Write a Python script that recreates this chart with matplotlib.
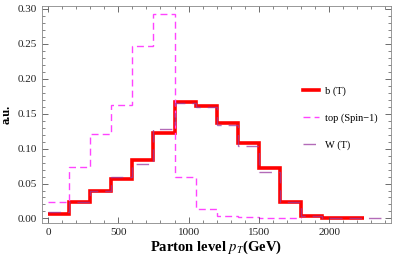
import matplotlib
matplotlib.use("Agg")
import matplotlib.pyplot as plt
import numpy as np
from matplotlib.ticker import MultipleLocator

plt.rcParams['font.family'] = ['Liberation Serif', 'DejaVu Serif']
plt.rcParams['mathtext.fontset'] = 'stix'

edges_b = [0, 150, 300, 450, 600, 750, 900, 1050, 1200, 1350, 1500, 1650, 1800, 1950, 2100, 2250]
b_T = [0.007, 0.024, 0.039, 0.056, 0.083, 0.122, 0.166, 0.161, 0.137, 0.108, 0.072, 0.024, 0.003, 0.001, 0.001]

edges_top = [0, 150, 300, 450, 600, 750, 900, 1050, 1200, 1350, 1500, 1650, 1800]
top_spin1 = [0.024, 0.074, 0.121, 0.162, 0.247, 0.293, 0.059, 0.013, 0.004, 0.002, 0.001, 0.001]

edges_w = [0, 150, 300, 450, 600, 750, 900, 1050, 1200, 1350, 1500, 1650, 1800, 1950, 2100, 2250, 2400]
W_T = [0.009, 0.024, 0.040, 0.060, 0.078, 0.128, 0.165, 0.160, 0.134, 0.104, 0.067, 0.024, 0.003, 0.001, 0.001, 0.001]

fig = plt.figure(figsize=(3.93, 2.59), dpi=100)
ax = fig.add_axes([42/393, 36/259, (391-42)/393, (223-6)/259])

ax.stairs(b_T, edges_b, color='#ff0000', lw=2.6, label='b (T)', baseline=None)
ax.stairs(top_spin1, edges_top, color='#ff44ff', lw=1.0, ls=(0, (5, 3)), label='top (Spin\u22121)', baseline=None)
ax.stairs(W_T, edges_w, color='#9a3aa0', lw=1.0, ls=(0, (9, 5)), alpha=0.75, label='W (T)', baseline=None)

ax.set_xlim(-43, 2440)
ax.set_ylim(-0.0065, 0.304)
ax.xaxis.set_major_locator(MultipleLocator(500))
ax.xaxis.set_minor_locator(MultipleLocator(100))
ax.yaxis.set_major_locator(MultipleLocator(0.05))
ax.yaxis.set_minor_locator(MultipleLocator(0.01))
ax.yaxis.set_major_formatter(matplotlib.ticker.FormatStrFormatter('%.2f'))
ax.tick_params(which='both', direction='in', top=True, right=True, colors='#555555', labelcolor='#222222', labelsize=8)
ax.tick_params(which='major', length=4, width=0.6)
ax.tick_params(which='minor', length=2, width=0.5)
for s in ax.spines.values():
    s.set_color('#888888')
    s.set_linewidth(0.6)

ax.set_xlabel('Parton level $\\boldsymbol{p_T}$(GeV)', fontsize=10.5, fontweight='bold', labelpad=1)
ax.set_ylabel('a.u.', fontsize=9, fontweight='bold', labelpad=4)

ax.legend(loc='upper left', bbox_to_anchor=(0.72, 0.672), frameon=False, fontsize=7.5,
          handlelength=1.6, handletextpad=0.5, labelspacing=1.65)

fig.savefig('out.png', dpi=100)
